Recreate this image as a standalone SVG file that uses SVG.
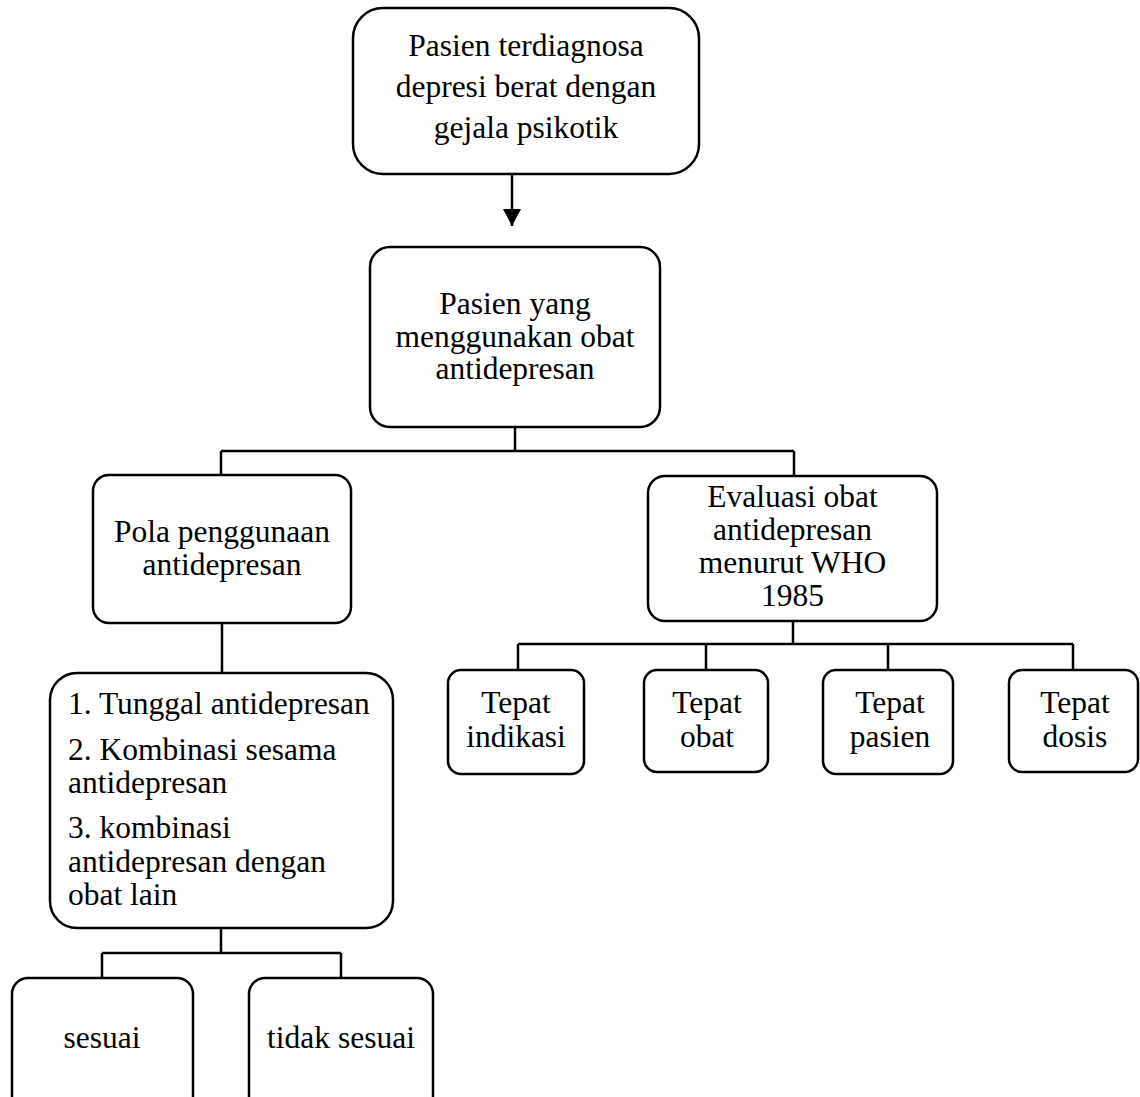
<svg xmlns="http://www.w3.org/2000/svg" width="1140" height="1097" viewBox="0 0 1140 1097">
<style>
.box{fill:#fff;stroke:#000;stroke-width:2.5}
.t{font-family:"Liberation Serif","Times New Roman",serif;font-size:31.5px;fill:#000;text-anchor:middle}
.l{text-anchor:start}
.c{fill:none;stroke:#000;stroke-width:2.5}
</style>
<defs>
<marker id="arr" markerWidth="18" markerHeight="18" refX="17" refY="9" orient="auto" markerUnits="userSpaceOnUse">
<path d="M0,0 L17,9 L0,18 Z" fill="#000"/>
</marker>
</defs>
<rect width="1140" height="1097" fill="#fff"/>
<g id="connectors">
<path class="c" d="M512,174 V226" marker-end="url(#arr)"/>
<path class="c" d="M515,427 V451 M221,451 H794 M221,451 V475 M794,451 V476"/>
<path class="c" d="M222,623 V673"/>
<path class="c" d="M793,621 V644 M518,644 H1073 M518,644 V670 M706,644 V670 M888,644 V670 M1073,644 V670"/>
<path class="c" d="M221,928 V953 M102,953 H341 M102,953 V978 M341,953 V978"/>
</g>
<g id="n1"><rect class="box" x="353" y="8" width="346" height="166" rx="30"/>
<text class="t" x="526" y="56">Pasien terdiagnosa</text>
<text class="t" x="526" y="97">depresi berat dengan</text>
<text class="t" x="526" y="138">gejala psikotik</text></g>
<g id="n2"><rect class="box" x="370" y="247" width="290" height="180" rx="20"/>
<text class="t" x="515" y="314">Pasien yang</text>
<text class="t" x="515" y="347">menggunakan obat</text>
<text class="t" x="515" y="379">antidepresan</text></g>
<g id="n3"><rect class="box" x="93" y="475" width="258" height="148" rx="16"/>
<text class="t" x="222" y="542">Pola penggunaan</text>
<text class="t" x="222" y="575">antidepresan</text></g>
<g id="n4"><rect class="box" x="648" y="476" width="289" height="145" rx="17"/>
<text class="t" x="792.5" y="507">Evaluasi obat</text>
<text class="t" x="792.5" y="540">antidepresan</text>
<text class="t" x="792.5" y="573">menurut WHO</text>
<text class="t" x="792.5" y="606">1985</text></g>
<g id="n5"><rect class="box" x="448" y="670" width="136" height="104" rx="13"/>
<text class="t" x="516" y="713">Tepat</text><text class="t" x="516" y="747">indikasi</text></g>
<g id="n6"><rect class="box" x="644" y="670" width="124" height="102" rx="13"/>
<text class="t" x="707" y="713">Tepat</text><text class="t" x="707" y="747">obat</text></g>
<g id="n7"><rect class="box" x="823" y="670" width="130" height="104" rx="13"/>
<text class="t" x="890" y="713">Tepat</text><text class="t" x="890" y="747">pasien</text></g>
<g id="n8"><rect class="box" x="1009" y="670" width="129" height="102" rx="13"/>
<text class="t" x="1075" y="713">Tepat</text><text class="t" x="1075" y="747">dosis</text></g>
<g id="n9"><rect class="box" x="50" y="673" width="343" height="255" rx="27"/>
<text class="t l" x="68" y="714">1. Tunggal antidepresan</text>
<text class="t l" x="68" y="760">2. Kombinasi sesama</text>
<text class="t l" x="68" y="793">antidepresan</text>
<text class="t l" x="68" y="838">3. kombinasi</text>
<text class="t l" x="68" y="872">antidepresan dengan</text>
<text class="t l" x="68" y="905">obat lain</text></g>
<g id="n10"><rect class="box" x="12" y="978" width="181" height="135" rx="16"/>
<text class="t" x="102" y="1048">sesuai</text></g>
<g id="n11"><rect class="box" x="249" y="978" width="184" height="135" rx="16"/>
<text class="t" x="341" y="1048">tidak sesuai</text></g>
</svg>
